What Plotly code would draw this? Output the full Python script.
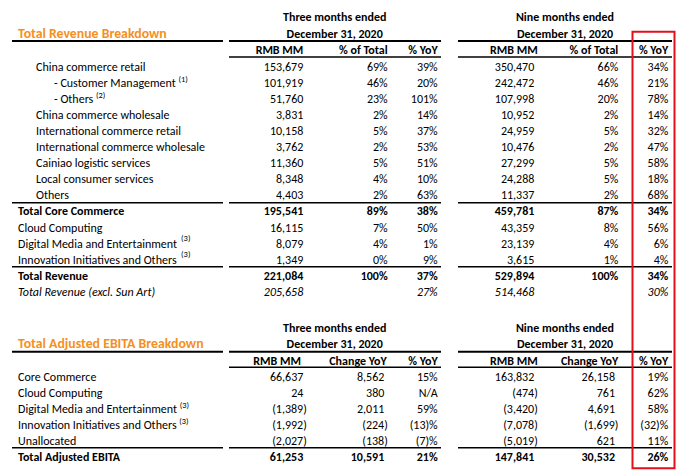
import plotly.graph_objects as go

# ---------------- data ----------------
rev_labels = ["China commerce retail", "- Customer Management", "- Others",
              "China commerce wholesale", "International commerce retail",
              "International commerce wholesale", "Cainiao logistic services",
              "Local consumer services", "Others", "Total Core Commerce",
              "Cloud Computing", "Digital Media and Entertainment",
              "Innovation Initiatives and Others", "Total Revenue",
              "Total Revenue (excl. Sun Art)"]
rev_notes = ["", "(1)", "(2)", "", "", "", "", "", "", "", "", "(3)", "(3)", "", ""]
rev_q_rmb = [153679, 101919, 51760, 3831, 10158, 3762, 11360, 8348, 4403,
             195541, 16115, 8079, 1349, 221084, 205658]
rev_q_share = [69, 46, 23, 2, 5, 2, 5, 4, 2, 89, 7, 4, 0, 100, None]
rev_q_yoy = [39, 20, 101, 14, 37, 53, 51, 10, 63, 38, 50, 1, 9, 37, 27]
rev_n_rmb = [350470, 242472, 107998, 10952, 24959, 10476, 27299, 24288, 11337,
             459781, 43359, 23139, 3615, 529894, 514468]
rev_n_share = [66, 46, 20, 2, 5, 2, 5, 5, 2, 87, 8, 4, 1, 100, None]
rev_n_yoy = [34, 21, 78, 14, 32, 47, 58, 18, 68, 34, 56, 6, 4, 34, 30]

eb_labels = ["Core Commerce", "Cloud Computing", "Digital Media and Entertainment",
             "Innovation Initiatives and Others", "Unallocated", "Total Adjusted EBITA"]
eb_notes = ["", "", "(3)", "(3)", "", ""]
eb_q_rmb = [66637, 24, -1389, -1992, -2027, 61253]
eb_q_chg = [8562, 380, 2011, -224, -138, 10591]
eb_q_yoy = [15, None, 59, -13, -7, 21]
eb_n_rmb = [163832, -474, -3420, -7078, -5019, 147841]
eb_n_chg = [26158, 761, 4691, -1699, 621, 30532]
eb_n_yoy = [19, 62, 58, -32, 11, 26]

rev_title = "Total Revenue Breakdown"
eb_title = "Total Adjusted EBITA Breakdown"
period_q = ["Three months ended", "December 31, 2020"]
period_n = ["Nine months ended", "December 31, 2020"]
rev_heads = ["RMB MM", "% of Total", "% YoY"]
eb_heads = ["RMB MM", "Change YoY", "% YoY"]

# ---------------- layout constants ----------------
W, H = 690, 475
OFF = 8  # default page body margin
FONT = "Carlito, Calibri, Lato, sans-serif"
FS = 12
TFS = 13.8
ORANGE = "#f5901e"
RED = "#e3101c"
TY = 1.0  # vertical nudge of text

rev_bold = {9, 13}
rev_ital = {14}
rev_indent = {0: 36, 1: 54, 2: 54, 3: 36, 4: 36, 5: 36, 6: 36, 7: 36, 8: 36}
eb_bold = {5}


def fmt_num(v):
    if v is None:
        return ""
    return f"({abs(v):,})" if v < 0 else f"{v:,}"


def fmt_pct(v, na=""):
    if v is None:
        return na
    return f"({abs(v)})%" if v < 0 else f"{v}%"


def style(t, i, bold, ital):
    if t == "":
        return t
    if i in bold:
        return f"<b>{t}</b>"
    if i in ital:
        return f"<i>{t}</i>"
    return t


fig = go.Figure()


def add_text(xs, ys, texts, pos="middle left", size=FS, color="black"):
    keep = [k for k, t in enumerate(texts) if t != ""]
    fig.add_trace(go.Scatter(x=[xs[k] for k in keep], y=[ys[k] + TY for k in keep],
                             text=[texts[k] for k in keep], mode="text",
                             textposition=pos, hoverinfo="skip",
                             textfont=dict(family=FONT, size=size, color=color),
                             showlegend=False, cliponaxis=False))


# ---- table 1 ----
r0, dy = 66.5, 16.1
ys1 = [r0 + i * dy for i in range(len(rev_labels))]
lab_x = [rev_indent.get(i, 18) for i in range(len(rev_labels))]
lab_t = []
for i, (l, n) in enumerate(zip(rev_labels, rev_notes)):
    t = l
    if n and i in (1, 2):
        t = f"{l} <sup>{n}</sup>"
    lab_t.append(style(t, i, rev_bold, rev_ital))
add_text(lab_x, ys1, lab_t, pos="middle right")
# detached footnote marks
sup_i = [i for i in range(len(rev_labels)) if rev_notes[i] and i not in (1, 2)]
add_text([181] * len(sup_i), [ys1[i] - 5.5 for i in sup_i],
         [rev_notes[i] for i in sup_i], pos="middle right", size=8.5)

cols1 = [(303.3, [fmt_num(v) for v in rev_q_rmb]),
         (387.7, [fmt_pct(v) for v in rev_q_share]),
         (437.7, [fmt_pct(v) for v in rev_q_yoy]),
         (534.3, [fmt_num(v) for v in rev_n_rmb]),
         (618.3, [fmt_pct(v) for v in rev_n_share]),
         (668.3, [fmt_pct(v) for v in rev_n_yoy])]
for x, vals in cols1:
    add_text([x] * len(vals), ys1, [style(t, i, rev_bold, rev_ital) for i, t in enumerate(vals)])

# headers table 1
hx1 = [303.3, 387.7, 437.7, 537.7, 618.3, 668.3]
add_text(hx1, [50] * 6, [f"<b>{h}</b>" for h in rev_heads * 2])
add_text([334.7, 334.7, 565, 565], [17, 34, 17, 34],
         [f"<b>{t}</b>" for t in period_q + period_n], pos="middle center")
add_text([18], [34], [f"<b>{rev_title}</b>"], pos="middle right", size=TFS, color=ORANGE)

# ---- table 2 ----
r2 = 376.7
ys2 = [r2 + i * dy for i in range(len(eb_labels))]
lab2 = []
for i, (l, n) in enumerate(zip(eb_labels, eb_notes)):
    t = f"{l} <sup>{n}</sup>" if n else l
    lab2.append(style(t, i, eb_bold, set()))
add_text([18] * len(eb_labels), ys2, lab2, pos="middle right")

cols2 = [(303.3, eb_q_rmb, "num"), (384.3, eb_q_chg, "num"), (437.7, eb_q_yoy, "pct"),
         (534.3, eb_n_rmb, "num"), (615.0, eb_n_chg, "num"), (668.3, eb_n_yoy, "pct")]
for x, vals, kind in cols2:
    if kind == "num":
        xs = [x + (3.5 if v < 0 else 0) for v in vals]
        ts = [fmt_num(v) for v in vals]
    else:
        xs = [x] * len(vals)
        ts = [fmt_pct(v, "N/A") for v in vals]
    add_text(xs, ys2, [style(t, i, eb_bold, set()) for i, t in enumerate(ts)])

hx2 = [301.0, 386.7, 437.7, 537.7, 618.3, 668.3]
add_text(hx2, [361] * 6, [f"<b>{h}</b>" for h in eb_heads * 2])
add_text([334.7, 334.7, 565, 565], [328, 344, 328, 344],
         [f"<b>{t}</b>" for t in period_q + period_n], pos="middle center")
add_text([18], [344], [f"<b>{eb_title}</b>"], pos="middle right", size=TFS, color=ORANGE)

# ---- rules ----
shapes = []


def hline(y, x0, x1, w=1.5):
    shapes.append(dict(type="line", xref="x", yref="y", x0=x0, x1=x1, y0=y, y1=y,
                       line=dict(color="black", width=w)))


segs_full = [(12, 223), (229, 441), (458, 672)]
segs_num = [(229, 441), (458, 672)]
for y in (41, 202.7, 266.7, 351.7, 447.7):
    for a, b in segs_full:
        hline(y, a, b, 2 if y in (41, 351.7) else 1.5)
for y in (57, 367.3):
    for a, b in segs_num:
        hline(y, a, b)

shapes.append(dict(type="rect", xref="x", yref="y", x0=632.5, x1=674.5, y0=31.7, y1=468.3,
                   line=dict(color=RED, width=2), fillcolor="rgba(0,0,0,0)"))

fig.update_layout(
    width=W - OFF, height=H - OFF, margin=dict(l=0, r=0, t=0, b=0),
    paper_bgcolor="white", plot_bgcolor="white",
    xaxis=dict(range=[OFF, W], visible=False, fixedrange=True),
    yaxis=dict(range=[H, OFF], visible=False, fixedrange=True),
    shapes=shapes, showlegend=False,
)
fig.write_html("out.html")
